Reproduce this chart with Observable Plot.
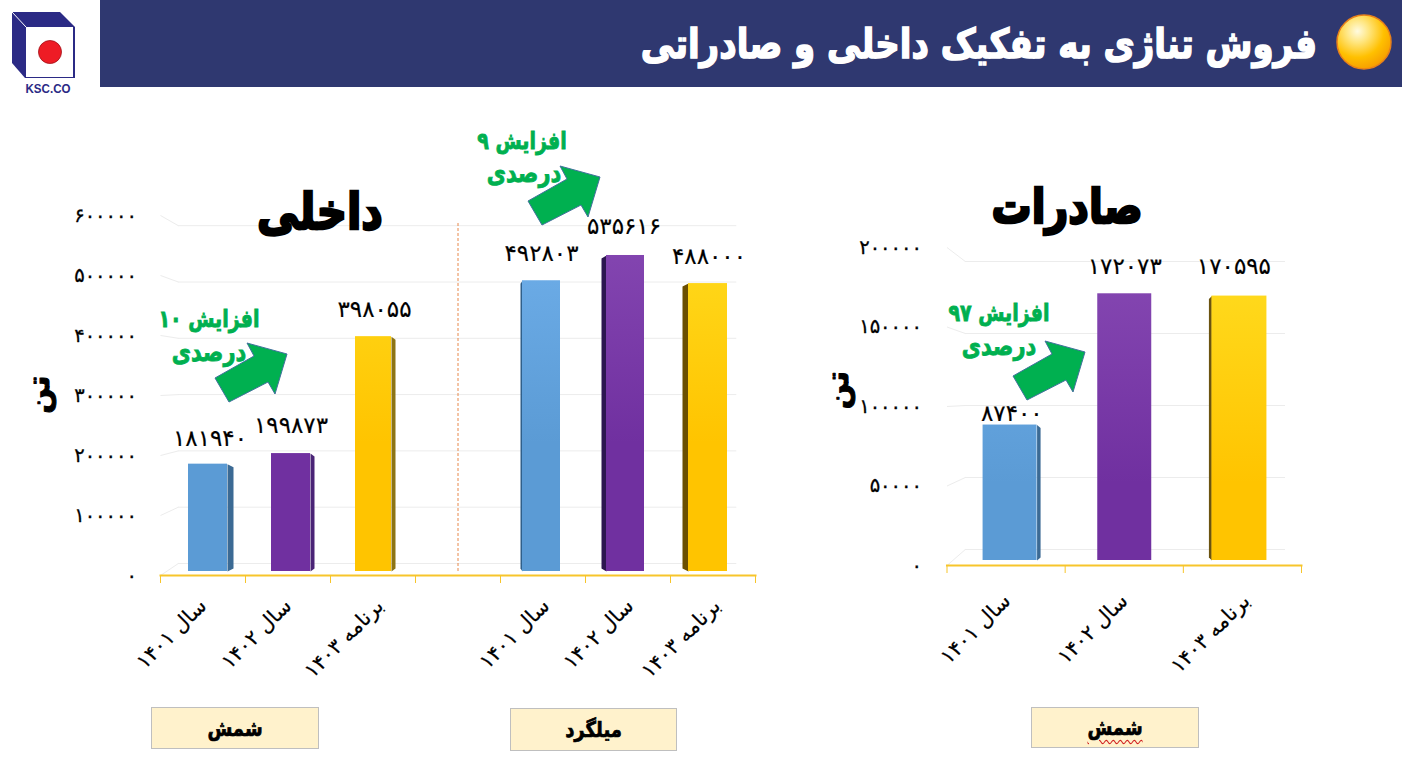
<!DOCTYPE html>
<html lang="fa">
<head>
<meta charset="utf-8">
<script src="https://cdn.jsdelivr.net/npm/d3@7"></script>
<script src="https://cdn.jsdelivr.net/npm/@observablehq/plot@0.6"></script>
<style>
html,body{margin:0;padding:0;background:#fff;overflow:hidden}
#page{position:relative;width:1402px;height:770px;overflow:hidden;font-family:"DejaVu Sans",sans-serif}
#page>svg,#page>div{position:absolute}
.plotbox svg{display:block;overflow:visible;background:transparent}
#band{left:100px;top:0;width:1302px;height:87px;background:#2f3870}
.head{left:600px;width:717px;top:16px;text-align:right;direction:rtl;color:#fff;font-weight:700;font-size:34px;line-height:56px;white-space:nowrap;-webkit-text-stroke:1.3px #fff;transform:scaleY(1.2)}
.title{color:#000;font-weight:700;text-align:center;direction:rtl;-webkit-text-stroke:2.2px #000;white-space:nowrap;transform:translate(-50%,-50%) scaleY(1.2)}
.call{color:#00b050;font-weight:700;font-size:19px;text-align:center;direction:rtl;white-space:nowrap;transform:translate(-50%,-50%) scaleY(1.25);-webkit-text-stroke:.7px #00b050}
.call.b{font-size:21px}
.box{background:#fff2cc;border:1.5px solid #bfbfbf;box-sizing:border-box;display:flex;align-items:center;justify-content:center;font-weight:700;font-size:18px;color:#000;direction:rtl}
.box span{display:inline-block;-webkit-text-stroke:.6px #000;transform:scaleY(1.2)}
</style>
</head>
<body>
<div id="page">
<div id="band"></div>
<div class="head">فروش تناژی به تفکیک داخلی و صادراتی</div>

<svg width="1402" height="770" style="left:0;top:0;pointer-events:none">
 <defs>
  <radialGradient id="ball" cx="38%" cy="30%" r="75%">
   <stop offset="0" stop-color="#fffbe0"/><stop offset=".28" stop-color="#ffe680"/><stop offset=".65" stop-color="#ffc000"/><stop offset="1" stop-color="#f59a00"/>
  </radialGradient>
  <linearGradient id="gBlue" gradientUnits="userSpaceOnUse" x1="0" x2="0" y1="60" y2="381"><stop offset="0" stop-color="#6dade8"/><stop offset=".6" stop-color="#5b9bd5"/></linearGradient>
  <linearGradient id="gPurple" gradientUnits="userSpaceOnUse" x1="0" x2="0" y1="60" y2="381"><stop offset="0" stop-color="#8345b0"/><stop offset=".6" stop-color="#7030a0"/></linearGradient>
  <linearGradient id="gYellow" gradientUnits="userSpaceOnUse" x1="0" x2="0" y1="60" y2="381"><stop offset="0" stop-color="#ffd91c"/><stop offset=".6" stop-color="#ffc400"/></linearGradient>
 </defs>
 <circle cx="1364" cy="42" r="27" fill="url(#ball)" stroke="#e8801a" stroke-width="1.5"/>
 <polygon points="12,12 60,12 75,27 75,78 25,78 12,63" fill="#2b2a85"/>
 <rect x="26" y="27" width="47" height="50" fill="#fff"/>
 <line x1="12" y1="12" x2="26" y2="27" stroke="#fff" stroke-width="1"/>
 <circle cx="50" cy="52" r="11.5" fill="#ee1c25" stroke="#a01018" stroke-width=".8"/>
 <text x="48" y="93" text-anchor="middle" font-family="Liberation Sans" font-weight="700" font-size="13.5" textLength="45" lengthAdjust="spacingAndGlyphs" fill="#2b2a85">KSC.CO</text>
</svg>

<div class="box" style="left:151px;top:707px;width:168px;height:42px"><span>شمش</span></div>
<div class="box" style="left:510px;top:708px;width:167px;height:43px"><span>میلگرد</span></div>
<div class="box" style="left:1031px;top:707px;width:168px;height:41px"><span style="text-decoration:underline wavy #d02020 1px;text-underline-offset:3px">شمش</span></div>

<div class="plotbox" id="left" style="left:0;top:190px"></div>
<div class="plotbox" id="right" style="left:830px;top:230px"></div>

<div class="title" style="left:320px;top:212px;font-size:42px">داخلی</div>
<div class="title" style="left:1067px;top:206px;font-size:40px">صادرات</div>

<svg width="1402" height="770" style="left:0;top:0;pointer-events:none">
 <g fill="#00b050" stroke="#41719c" stroke-width="1">
  <polygon id="arr" points="1013,376 1052,354 1045,341 1085,352 1073,392 1066,380 1027,400"/>
  <use href="#arr" transform="translate(-798,2)"/>
  <use href="#arr" transform="translate(-485,-175)"/>
 </g>
</svg>

<div class="call" style="left:209px;top:318px">افزایش ۱۰</div>
<div class="call b" style="left:209px;top:352px">درصدی</div>
<div class="call" style="left:522px;top:140px">افزایش ۹</div>
<div class="call b" style="left:524px;top:173px">درصدی</div>
<div class="call" style="left:999px;top:312px">افزایش ۹۷</div>
<div class="call b" style="left:999px;top:346px">درصدی</div>
</div>

<script>
// ---- data ----
const leftCategories = ["سال ۱۴۰۱","سال ۱۴۰۲","برنامه ۱۴۰۳",null,"سال ۱۴۰۱","سال ۱۴۰۲","برنامه ۱۴۰۳"];
const leftValues     = [181940,199873,398055,null,492803,535616,488000];
const leftTicks      = [0,100000,200000,300000,400000,500000,600000];
const rightCategories = ["سال ۱۴۰۱","سال ۱۴۰۲","برنامه ۱۴۰۳"];
const rightValues     = [87400,172073,170595];
const rightTicks      = [0,50000,100000,150000,200000];
const unitLabel = "تن";

// ---- styling of the pseudo-3D bars: pixel offsets from the slot centre ----
const C = {blue:"url(#gBlue)",purple:"url(#gPurple)",yellow:"url(#gYellow)"};
const leftStyle = [
 {fill:C.blue,  side:"#3b6a94",f0:-14.5,f1:24.5,s:30.5,dy:-26,lx:-1},
 {fill:C.purple,side:"#4a2476",f0:-16.5,f1:22.5,s:26.5,dy:-28,lx:-2},
 {fill:C.yellow,side:"#8d7414",f0:-17.5,f1:18.5,s:22.5,dy:-27,lx:-1},
 null,
 {fill:C.blue,  side:"#2f5f8a",f0:-20.5,f1:17.5,s:-22.5,dy:-27,lx:1},
 {fill:C.purple,side:"#2c1650",f0:-21.5,f1:16.5,s:-26.5,dy:-29,lx:1},
 {fill:C.yellow,side:"#6b4f00",f0:-24.5,f1:14.5,s:-30.5,dy:-27,lx:4}
];
const rightStyle = [
 {fill:C.blue,  side:"#3b6a94",f0:-23,f1:31,s:34.5,dy:-11,lx:0},
 {fill:C.purple,side:null,     f0:-26.5,f1:27.5,s:27.5,dy:-27,lx:0},
 {fill:C.yellow,side:"#6b5310",f0:-30.5,f1:24.5,s:-33.5,dy:-29,lx:-4}
];

function chart(o){
  const {categories,values,styles,ticks,slots,x0,x1,frameBottom,barBase,pxPerUnit,dmax,top,leftPos,
         tickBase,tickSlope,wallBase,wallSlope,wallX0,wallX1,tickDx,unitDx,unitY,catDy,catDx,width,height,divider}=o;
  const slotPx=(x1-x0)/slots;
  const rows=values.map((v,i)=>({v,i,cat:categories[i],st:styles[i]})).filter(d=>d.v!=null);
  const toVal=(base,slope)=>v=>(slope*v+(barBase-base))/pxPerUnit;
  const labelV=toVal(tickBase,tickSlope), wallV=toVal(wallBase,wallSlope);
  const fx=(i,px)=>i+.5+px/slotPx;
  const bevel=3/pxPerUnit;
  const fa=n=>String(n).replace(/\d/g,c=>"۰۱۲۳۴۵۶۷۸۹"[c]);
  const marks=[
    Plot.ruleY(ticks,{x1:wallX0,x2:wallX1,y:wallV,stroke:"#ececec",strokeWidth:1}),
    Plot.link(ticks,{x1:0,x2:wallX0,y1:labelV,y2:wallV,stroke:"#ececec",strokeWidth:1}),
    Plot.frame({anchor:"bottom",stroke:"#f7c52b",strokeWidth:2}),
    Plot.axisX({ticks:d3.range(slots+1),tickSize:8,tickFormat:()=>"",stroke:"#f7c52b",label:null})
  ];
  if(divider) marks.push(Plot.ruleX([divider.at],{y1:0,y2:divider.to,stroke:"#e8884a",strokeWidth:1,strokeDasharray:"3 2"}));
  for(const d of rows){
    const s=d.st, e=s.s<0?s.f0:s.f1;
    if(s.side) marks.push(Plot.line(
      [[e,d.v],[s.s,d.v-bevel],[s.s,bevel],[e,0],[e,d.v]],
      {x:p=>fx(d.i,p[0]),y:p=>p[1],fill:s.side,stroke:"none",curve:"linear"}));
    marks.push(Plot.rect([d],{x1:r=>fx(r.i,s.f0),x2:r=>fx(r.i,s.f1),y1:0,y2:"v",fill:s.fill,inset:0}));
    const cx=(Math.min(s.f0,s.s)+Math.max(s.f1,s.s))/2+s.lx;
    marks.push(Plot.text([d],{x:r=>fx(r.i,cx),y:"v",dy:s.dy,text:r=>fa(r.v),fontSize:23,fill:"#000",fontWeight:400,stroke:"#000",strokeWidth:.2}));
    marks.push(Plot.text([d],{x:r=>r.i+.5,y:0,text:"cat",rotate:-45,textAnchor:"end",dx:catDx[d.i],dy:catDy,fontSize:20.5,fill:"#000",stroke:"#000",strokeWidth:.2}));
  }
  marks.push(Plot.text(ticks,{x:0,y:labelV,text:fa,textAnchor:"end",dx:tickDx,fontSize:19.5,fill:"#000",stroke:"#000",strokeWidth:.3}));
  marks.push(Plot.text([unitLabel],{x:0,y:unitY,text:d=>d,rotate:-90,dx:unitDx,fontSize:30,fontWeight:700,fill:"#000",stroke:"#000",strokeWidth:1}));
  return Plot.plot({
    width,height,
    marginLeft:leftPos,marginRight:width-(x1-x0)-leftPos,
    marginTop:barBase-pxPerUnit*dmax-top,
    marginBottom:height-(frameBottom-top),
    style:{fontFamily:"DejaVu Sans",background:"transparent",overflow:"visible"},
    x:{domain:[0,slots],axis:null},
    y:{domain:[0,dmax],axis:null,insetBottom:frameBottom-barBase},
    marks
  });
}

document.getElementById("left").append(chart({
  categories:leftCategories,values:leftValues,styles:leftStyle,ticks:leftTicks,
  slots:7,x0:160,x1:755,frameBottom:575,barBase:571,pxPerUnit:59e-5,dmax:600000,top:190,leftPos:160,
  tickBase:575,tickSlope:60e-5,wallBase:563,wallSlope:56.3e-5,wallX0:.21,wallX1:6.78,
  tickDx:-23.5,unitDx:-121,unitY:300000,catDy:31,catDx:[0,0,7,0,3,2,4],width:790,height:510,
  divider:{at:3.5,to:591500}
}));
document.getElementById("right").append(chart({
  categories:rightCategories,values:rightValues,styles:rightStyle,ticks:rightTicks,
  slots:3,x0:946.5,x1:1301,frameBottom:565,barBase:560,pxPerUnit:155e-5,dmax:200000,top:230,leftPos:116.5,
  tickBase:565,tickSlope:159e-5,wallBase:549,wallSlope:144e-5,wallX0:.155,wallX1:2.865,
  tickDx:-25,unitDx:-109,unitY:110000,catDy:37,catDx:[1,0,4],width:500,height:455
}));
</script>
</body>
</html>
